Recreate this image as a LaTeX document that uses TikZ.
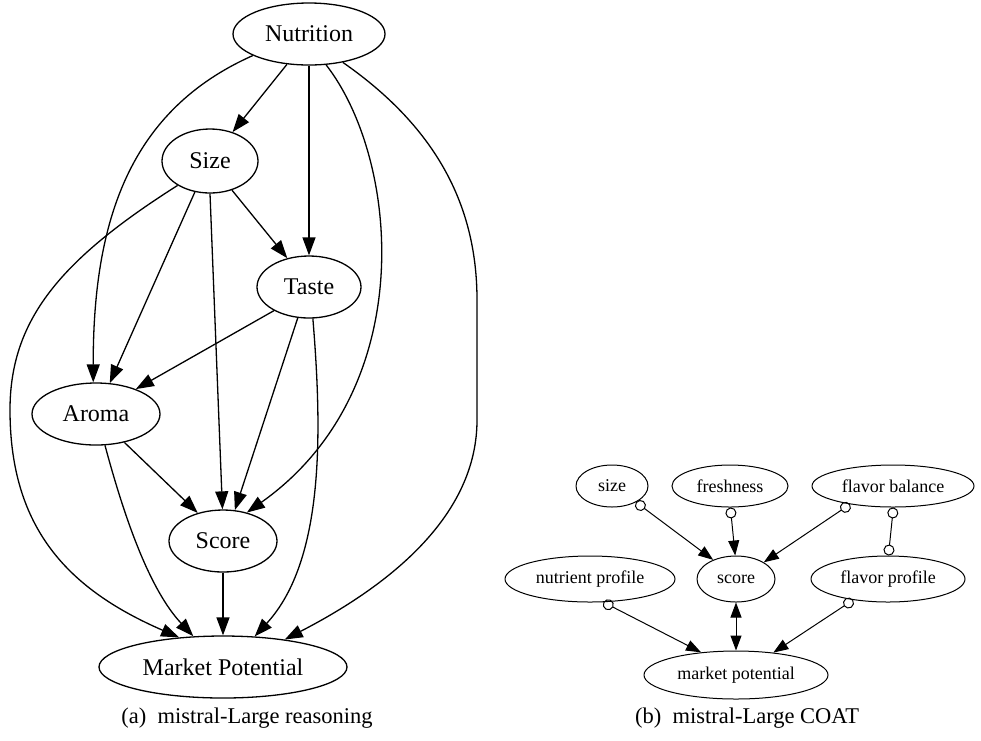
\documentclass[tikz,border=0pt]{standalone}
\usepackage{fontspec}
\setmainfont{Liberation Serif}
\usetikzlibrary{shapes.geometric,arrows.meta}

\begin{document}
\begin{tikzpicture}[x=1pt,y=-1pt,
  big/.style={ellipse,draw,line width=1.3pt,inner sep=0pt,font=\fontsize{24}{28}\selectfont},
  small/.style={ellipse,draw,line width=1pt,inner sep=0pt,font=\fontsize{18}{22}\selectfont},
  dep/.style={line width=1.3pt,-{Triangle[length=18pt,width=13pt]}},
  cdep/.style={line width=1pt,{Circle[open,length=11pt]}-{Triangle[length=15pt,width=11pt]}},
  cc/.style={line width=1pt,{Circle[open,length=11pt]}-{Circle[open,length=11pt]}},
  bidep/.style={line width=1pt,{Triangle[length=15pt,width=11pt]}-{Triangle[length=15pt,width=11pt]}},
  caption/.style={font=\fontsize{22.5}{26}\selectfont}]
\useasboundingbox (0,0) rectangle (981,740);

% (a) reasoning graph
\node[big,minimum width=152pt,minimum height=62pt] (nutrition) at (309,34) {Nutrition};
\node[big,minimum width=96pt,minimum height=64pt] (size) at (210,161) {Size};
\node[big,minimum width=104pt,minimum height=62pt] (taste) at (309,287) {Taste};
\node[big,minimum width=128pt,minimum height=62pt] (aroma) at (96,414) {Aroma};
\node[big,minimum width=108pt,minimum height=62pt] (score) at (223,541) {Score};
\node[big,minimum width=248pt,minimum height=62pt] (market) at (223,667) {Market Potential};
\node[caption] (capa) at (247,718) {(a)\enspace mistral-Large reasoning};

\draw[dep] (nutrition.234) -- (size.52);
\draw[dep] (nutrition.south) -- (taste.north);
\draw[dep] (nutrition.201) .. controls (130,110) and (93,220) .. (aroma.95);
\draw[dep] (nutrition.299) .. controls (400,160) and (420,390) .. (score.50);
\draw[dep] (nutrition.320) .. controls (440,130) and (477,210) .. (477,300)
  -- (477,420) .. controls (477,510) and (400,580) .. (market.24);
\draw[dep] (size.307) -- (taste.127);
\draw[dep] (size.244) -- (aroma.66);
\draw[dep] (size.south) -- (score.91);
\draw[dep] (size.217) .. controls (60,260) and (10,320) .. (10,410)
  .. controls (10,530) and (70,590) .. (market.146);
\draw[dep] (taste.214) -- (aroma.32);
\draw[dep] (taste.250) -- (score.69);
\draw[dep] (taste.277) .. controls (322,430) and (325,560) .. (market.44);
\draw[dep] (aroma.315) -- (score.132);
\draw[dep] (aroma.286) .. controls (125,520) and (150,590) .. (market.134);
\draw[dep] (score.south) -- (market.north);

% (b) COAT graph
\node[small,minimum width=72pt,minimum height=42pt] (size2) at (612,486) {size};
\node[small,minimum width=116pt,minimum height=42pt] (fresh) at (730,486) {freshness};
\node[small,minimum width=162pt,minimum height=42pt] (flavbal) at (893,486) {flavor balance};
\node[small,minimum width=170pt,minimum height=46pt] (nutprof) at (590,579) {nutrient profile};
\node[small,minimum width=78pt,minimum height=46pt] (score2) at (736,579) {score};
\node[small,minimum width=154pt,minimum height=46pt] (flavprof) at (888,579) {flavor profile};
\node[small,minimum width=184pt,minimum height=48pt] (market2) at (736,675) {market potential};
\node[caption] (capb) at (747,718) {(b)\enspace mistral-Large COAT};

\draw[cdep] (size2.326) -- (score2.140);
\draw[cdep] (fresh.271) -- (score2.92);
\draw[cdep] (flavbal.203) -- (score2.31);
\draw[cc] (flavbal.271) -- (flavprof.89);
\draw[cdep] (nutprof.300) -- (market2.147);
\draw[cdep] (flavprof.211) -- (market2.31);
\draw[bidep] (score2.south) -- (market2.north);
\end{tikzpicture}
\end{document}
